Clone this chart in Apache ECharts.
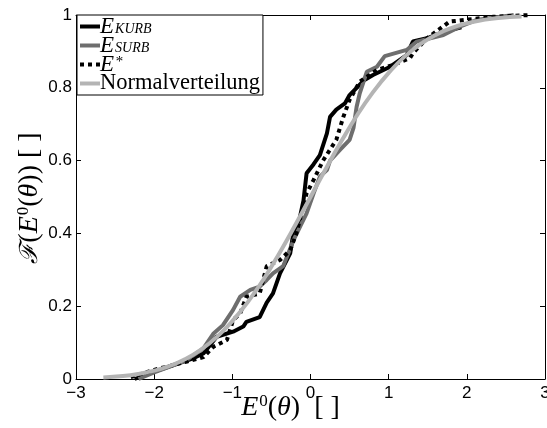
<!DOCTYPE html>
<html><head><meta charset="utf-8">
<script src="https://cdn.jsdelivr.net/npm/echarts@6/dist/echarts.min.js"></script>
<style>html,body{margin:0;padding:0;background:#fff}#c{width:547px;height:428px}</style>
</head><body><div id="c"></div>
<script>
var seriesNames = ['E_KURB', 'E_SURB', 'E*', 'Normalverteilung'];
var xTicks = [-3, -2, -1, 0, 1, 2, 3];
var yTicks = [0, 0.2, 0.4, 0.6, 0.8, 1];

var kurbX = [-2.25,-2.0,-1.5,-1.37,-1.2,-0.99,-0.86,-0.82,-0.65,-0.56,-0.48,-0.39,-0.26,-0.22,-0.16,-0.09,-0.05,0.04,0.12,0.21,0.25,0.33,0.44,0.5,0.59,0.68,0.8,1.02,1.23,1.31,1.49,1.7,1.93];
var kurbY = [0.0,0.02,0.057,0.07,0.116,0.13,0.144,0.157,0.17,0.21,0.235,0.29,0.345,0.4,0.42,0.49,0.565,0.59,0.615,0.675,0.72,0.74,0.757,0.78,0.8,0.82,0.835,0.858,0.89,0.927,0.936,0.954,0.966];

var surbX = [-2.2,-2.0,-1.6,-1.37,-1.24,-1.12,-0.99,-0.9,-0.77,-0.65,-0.56,-0.48,-0.35,-0.22,-0.13,-0.05,0.04,0.12,0.21,0.25,0.38,0.5,0.55,0.59,0.63,0.72,0.85,0.95,1.23,1.36,1.7,1.91,2.12,2.6];
var surbY = [0.0,0.018,0.05,0.084,0.125,0.148,0.19,0.226,0.245,0.254,0.272,0.29,0.31,0.38,0.42,0.455,0.51,0.556,0.574,0.6,0.63,0.657,0.69,0.748,0.785,0.844,0.858,0.887,0.904,0.927,0.945,0.968,0.986,1.0];

var starX = [-2.3,-2.0,-1.58,-1.37,-1.24,-1.07,-0.99,-0.9,-0.82,-0.65,-0.56,-0.39,-0.26,-0.18,-0.05,0.04,0.16,0.33,0.42,0.5,0.63,0.85,1.06,1.27,1.31,1.49,1.78,2.34,2.81];
var starY = [0.005,0.025,0.048,0.06,0.089,0.107,0.162,0.18,0.226,0.235,0.31,0.327,0.354,0.4,0.51,0.547,0.6,0.657,0.72,0.767,0.817,0.849,0.863,0.881,0.895,0.936,0.982,0.995,1.0];

var normX = [-2.65,-2.4,-2.2,-2.0,-1.8,-1.6,-1.4,-1.2,-1.0,-0.8,-0.6,-0.4,-0.2,0,0.2,0.4,0.6,0.8,1.0,1.2,1.4,1.6,1.8,2.0,2.2,2.4,2.7];
var normY = [0.004,0.008,0.014,0.023,0.036,0.055,0.081,0.115,0.159,0.212,0.274,0.345,0.421,0.5,0.579,0.655,0.726,0.788,0.841,0.885,0.919,0.945,0.964,0.977,0.986,0.992,0.996];

function pairs(xs, ys){ return xs.map(function(x,i){ return [x, ys[i]]; }); }

var serif = 'Liberation Serif';
var rich = {
  e:{fontFamily:serif,fontStyle:'italic',fontSize:23,color:'#000',lineHeight:20,verticalAlign:'middle'},
  sub:{fontFamily:serif,fontStyle:'italic',fontSize:14,color:'#000',lineHeight:11,verticalAlign:'bottom',padding:[0,0,0,1]},
  sup:{fontFamily:serif,fontStyle:'italic',fontSize:15,color:'#000',lineHeight:10,verticalAlign:'top',padding:[0,0,0,1]},
  n:{fontFamily:serif,fontSize:22.5,color:'#000',lineHeight:20,verticalAlign:'middle'}
};
var legendFmt = {
  'E_KURB':'{e|E}{sub|KURB}',
  'E_SURB':'{e|E}{sub|SURB}',
  'E*':'{e|E}{sup|*}',
  'Normalverteilung':'{n|Normalverteilung}'
};
var solidIcon = 'rect';
var dotIcon = 'path://M0,0h4v4h-4zM8,0h4v4h-4zM16,0h4v4h-4z';

var axisLbl = {fontFamily:'Liberation Sans',fontSize:17,color:'#000'};
function minusFmt(v){ return String(v).replace('-', '\u2212'); }

var nameRich = {
  e:{fontFamily:serif,fontStyle:'italic',fontSize:28,color:'#000',lineHeight:30},
  f:{fontFamily:'DejaVu Serif',fontStyle:'italic',fontSize:25,color:'#000',lineHeight:30},
  th:{fontFamily:serif,fontStyle:'italic',fontSize:28,color:'#000',lineHeight:30},
  sup:{fontFamily:serif,fontSize:17,color:'#000',lineHeight:16,verticalAlign:'top',padding:[0,0,0,1]},
  n:{fontFamily:serif,fontSize:28,color:'#000',lineHeight:30}
};

var chart = echarts.init(document.getElementById('c'));
chart.setOption({
  animation:false,
  backgroundColor:'#fff',
  grid:{left:76,right:2,top:15,bottom:49,containLabel:false,outerBoundsMode:'none'},
  legend:{
    data:[
      {name:seriesNames[0], icon:solidIcon},
      {name:seriesNames[1], icon:solidIcon},
      {name:seriesNames[2], icon:dotIcon},
      {name:seriesNames[3], icon:solidIcon}
    ],
    orient:'vertical', left:77, top:15,
    itemGap:-4, itemWidth:20, itemHeight:4,
    borderColor:'#000', borderWidth:1, borderRadius:0,
    padding:[0,3,0,3], backgroundColor:'#fff',
    formatter:function(n){ return legendFmt[n]; },
    textStyle:{rich:rich, padding:[0,0,0,-5]}
  },
  xAxis:[{
    type:'value', min:-3, max:3, interval:1, position:'bottom',
    axisLine:{onZero:false,lineStyle:{color:'#000',width:1}},
    axisTick:{inside:true,length:5,lineStyle:{color:'#000'}},
    axisLabel:Object.assign({formatter:minusFmt, margin:6}, axisLbl),
    splitLine:{show:false},
    name:'{e|E}{sup|0}{n|(}{th|θ}{n|)  [ ]}', nameLocation:'middle', nameGap:14, nameMoveOverlap:false,
    nameTextStyle:{rich:nameRich, padding:[0,40,0,0]}
  },{
    type:'value', min:-3, max:3, interval:1, position:'top',
    axisLine:{onZero:false,lineStyle:{color:'#000',width:1}},
    axisTick:{inside:true,length:5,lineStyle:{color:'#000'}},
    axisLabel:{show:false}, splitLine:{show:false}
  }],
  yAxis:[{
    type:'value', min:0, max:1, interval:0.2, position:'left',
    axisLine:{show:true,onZero:false,lineStyle:{color:'#000',width:1}},
    axisTick:{show:true,inside:true,length:5,lineStyle:{color:'#000'}},
    axisLabel:Object.assign({margin:4}, axisLbl),
    splitLine:{show:false},
    name:'{f|ℱ}{n|(}{e|E}{sup|0}{n|(}{th|θ}{n|)) [ ]}', nameLocation:'middle', nameGap:31, nameMoveOverlap:false,
    nameTextStyle:{rich:nameRich, padding:[0,2,0,0]}
  },{
    type:'value', min:0, max:1, interval:0.2, position:'right',
    axisLine:{show:true,onZero:false,lineStyle:{color:'#000',width:1}},
    axisTick:{show:true,inside:true,length:5,lineStyle:{color:'#000'}},
    axisLabel:{show:false}, splitLine:{show:false}
  }],
  series:[
    {name:'E_KURB', type:'line', data:pairs(kurbX,kurbY), showSymbol:false, symbol:'none',
     lineStyle:{color:'#000',width:4}, itemStyle:{color:'#000'}},
    {name:'E_SURB', type:'line', data:pairs(surbX,surbY), showSymbol:false, symbol:'none',
     lineStyle:{color:'#6e6e6e',width:4}, itemStyle:{color:'#6e6e6e'}},
    {name:'E*', type:'line', data:pairs(starX,starY), showSymbol:false, symbol:'none',
     lineStyle:{color:'#000',width:4,type:[4,4],cap:'butt'}, itemStyle:{color:'#000'}},
    {name:'Normalverteilung', type:'line', data:pairs(normX,normY), showSymbol:false, symbol:'none', smooth:true,
     lineStyle:{color:'#b4b4b4',width:4}, itemStyle:{color:'#b4b4b4'}}
  ]
});
</script></body></html>
